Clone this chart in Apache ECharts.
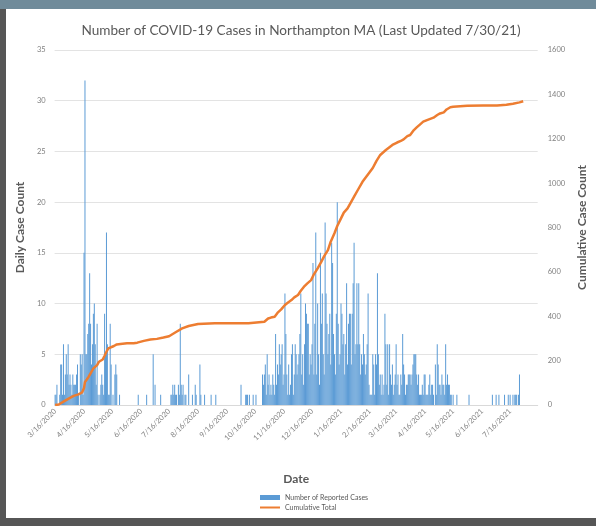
<!DOCTYPE html>
<html>
<head>
<meta charset="utf-8">
<script src="https://cdn.jsdelivr.net/npm/echarts@6/dist/echarts.min.js"></script>
<style>
  html, body { margin: 0; padding: 0; }
  #frame { position: absolute; left: 0; top: 0; width: 596px; height: 526px; background: #565656; }
  #topbar { position: absolute; left: 0; top: 0; width: 596px; height: 9px; background: #708b9a; }
  #chart { position: absolute; left: 6px; top: 9px; width: 590px; height: 509px; background: #fff; }
</style>
</head>
<body>
<div id="frame"><div id="topbar"></div></div>
<div id="chart"></div>
<script>
// daily reported cases, one array per month (3/16/2020 - 7/30/2021)
const mar2020 = [1,1,2,0,0,1,4,4,1,6,1,3,5,3,6,2];
const apr2020 = [3,2,1,3,2,2,2,3,4,1,0,5,4,5,1,15,32,5,5,7,8,13,8,4,6,9,10,6,2,8];
const may2020 = [1,0,1,2,3,2,1,9,5,17,6,1,1,8,4,0,1,0,3,4,3,0,0,1,0,0,0,0,0,0,0];
const jun2020 = [0,0,0,0,0,0,0,0,0,0,0,0,1,0,0,0,0,0,0,0,0,1,0,0,0,0,0,0,5,0];
const jul2020 = [2,0,0,0,0,0,1,0,0,0,0,0,0,0,0,0,0,1,1,2,1,2,1,1,0,2,1,8,2,1,2];
const aug2020 = [0,1,1,0,0,3,0,0,0,1,0,0,2,1,0,0,0,4,1,0,0,0,1,0,0,0,0,0,0,1,0];
const sep2020 = [0,0,0,1,0,0,0,0,0,0,0,0,0,0,0,0,0,0,0,0,0,0,0,0,0,0,0,0,0,0];
const oct2020 = [2,0,0,0,0,1,1,1,0,1,0,0,0,1,0,0,1,0,0,0,0,0,0,3,2,3,4,1,5,2,3];
const nov2020 = [1,2,1,3,2,1,7,2,4,3,6,4,5,6,2,3,11,7,3,1,4,1,2,5,6,1,3,6,5,3];
const dec2020 = [4,5,7,11,3,5,2,6,10,9,8,8,3,5,4,6,14,3,8,17,3,10,5,2,15,8,11,5,3,18,11];
const jan2021 = [8,5,7,9,4,16,14,7,5,3,9,20,8,4,5,10,9,6,7,3,6,12,4,8,9,9,4,9,12,16,5];
const feb2021 = [6,12,6,12,6,3,5,4,7,5,3,4,6,11,2,1,1,1,5,4,1,5,4,13,5,2,3,1];
const mar2021 = [3,1,2,9,6,2,6,1,6,3,2,4,1,2,3,6,2,3,1,1,3,2,7,4,3,1,2,2,3,3,3];
const apr2021 = [2,3,4,5,5,5,3,2,3,1,1,1,2,1,3,3,1,1,1,2,3,1,2,2,1,0,4,1,6,4];
const may2021 = [2,2,1,3,2,2,1,6,2,3,2,2,1,1,0,1,0,0,0,1,0,0,0,0,0,0,0,0,0,0,0];
const jun2021 = [0,1,0,0,0,0,0,0,0,0,0,0,0,0,0,0,0,0,0,0,0,0,0,0,0,0,1,0,0,0];
const jul2021 = [1,0,0,1,0,0,0,0,0,1,0,0,0,1,0,1,0,0,1,0,1,1,1,0,1,3,0,0,0,0];

const dailyCases = [].concat(mar2020, apr2020, may2020, jun2020, jul2020, aug2020,
  sep2020, oct2020, nov2020, dec2020, jan2021, feb2021, mar2021, apr2021,
  may2021, jun2021, jul2021);

// cumulative total
const cumDates = ['3/16/2020','3/20/2020','3/22/2020','3/25/2020','3/31/2020','4/5/2020','4/10/2020',
  '4/14/2020','4/15/2020','4/16/2020','4/17/2020','4/19/2020','4/21/2020','4/23/2020','4/25/2020',
  '4/26/2020','4/30/2020','5/2/2020','5/4/2020','5/6/2020','5/8/2020','5/10/2020','5/12/2020',
  '5/14/2020','5/18/2020','5/21/2020','5/25/2020','6/1/2020','6/8/2020','6/12/2020','6/19/2020',
  '6/26/2020','7/3/2020','7/10/2020','7/16/2020','7/23/2020','7/30/2020','8/6/2020','8/16/2020',
  '9/3/2020','10/9/2020','10/26/2020','10/30/2020','11/2/2020','11/6/2020','11/9/2020','11/13/2020',
  '11/17/2020','11/20/2020','11/24/2020','11/27/2020','12/1/2020','12/4/2020','12/8/2020',
  '12/11/2020','12/15/2020','12/18/2020','12/22/2020','12/26/2020','12/29/2020','1/2/2021',
  '1/5/2021','1/9/2021','1/12/2021','1/16/2021','1/19/2021','1/23/2021','1/26/2021','1/30/2021',
  '2/3/2021','2/8/2021','2/14/2021','2/19/2021','2/23/2021','2/27/2021','3/5/2021','3/12/2021',
  '3/17/2021','3/21/2021','3/24/2021','3/28/2021','3/31/2021','4/4/2021','4/7/2021','4/11/2021',
  '4/14/2021','4/18/2021','4/25/2021','4/29/2021','5/2/2021','5/6/2021','5/9/2021','5/13/2021',
  '5/16/2021','5/31/2021','6/17/2021','7/2/2021','7/12/2021','7/19/2021','7/26/2021','7/30/2021'];
const cumTotals = [0,2,5,15,30,41,48,57,62,77,104,115,128,143,152,165,180,195,201,205,222,240,255,
  259,266,273,275,278,278,281,289,295,298,304,310,328,345,356,365,368,368,375,390,394,398,415,431,
  451,461,473,485,496,515,536,548,563,589,616,646,671,698,736,774,807,841,867,886,909,939,969,1006,
  1040,1068,1100,1127,1149,1172,1183,1190,1197,1212,1217,1239,1251,1266,1277,1284,1295,1307,1314,
  1319,1332,1342,1344,1349,1350,1350,1353,1358,1364,1369];

// date categories, axis runs a bit past the last report
const dates = [];
for (let d = new Date(2020, 2, 16); d <= new Date(2021, 7, 14); d.setDate(d.getDate() + 1)) {
  dates.push((d.getMonth() + 1) + '/' + d.getDate() + '/' + d.getFullYear());
}

const cumData = cumDates.map((d, k) => [dates.indexOf(d), cumTotals[k]]);

const myChart = echarts.init(document.getElementById('chart'));
const grey = '#595959';
const font = 'Lato, "Open Sans", sans-serif';

const option = {
  animation: false,
  textStyle: { fontFamily: font },
  title: {
    text: 'Number of COVID-19 Cases in Northampton MA (Last Updated 7/30/21)',
    left: 'center',
    top: 10,
    textStyle: { color: grey, fontSize: 13.6, fontWeight: 'normal', fontFamily: font }
  },
  legend: {
    orient: 'vertical',
    left: 249,
    top: 480,
    itemGap: 3,
    itemWidth: 20,
    itemHeight: 5,
    textStyle: { color: grey, fontSize: 7, fontFamily: font },
    data: [
      { name: 'Number of Reported Cases', icon: 'rect' },
      { name: 'Cumulative Total', icon: 'path://M0,0 L20,0 L20,2 L0,2 Z' }
    ]
  },
  grid: { left: 46, right: 52, top: 41, bottom: 113 },
  xAxis: {
    type: 'category',
    data: dates,
    name: 'Date',
    nameLocation: 'middle',
    nameGap: 68,
    nameTextStyle: { color: grey, fontSize: 12, fontWeight: 'bold', fontFamily: font },
    axisLine: { lineStyle: { color: '#d9d9d9' } },
    axisTick: { show: false },
    axisLabel: {
      rotate: 45,
      color: '#7f7f7f',
      fontSize: 7.5,
      margin: 5,
      hideOverlap: false,
      interval: (idx, val) => val.split('/')[1] === '16'
    }
  },
  yAxis: [
    {
      type: 'value',
      min: 0, max: 35, interval: 5,
      name: 'Daily Case Count',
      nameLocation: 'middle',
      nameRotate: 90,
      nameGap: 26,
      nameTextStyle: { color: grey, fontSize: 12, fontWeight: 'bold', fontFamily: font },
      axisLabel: { color: '#7f7f7f', fontSize: 7.5, margin: 9 },
      splitLine: { lineStyle: { color: '#e3e3e3' } }
    },
    {
      type: 'value',
      min: 0, max: 1600, interval: 200,
      name: 'Cumulative Case Count',
      nameLocation: 'middle',
      nameRotate: 90,
      nameGap: 34,
      nameTextStyle: { color: grey, fontSize: 12, fontWeight: 'bold', fontFamily: font },
      axisLabel: { color: '#7f7f7f', fontSize: 7.5, margin: 10, formatter: v => String(v) },
      splitLine: { show: false }
    }
  ],
  series: [
    {
      name: 'Number of Reported Cases',
      type: 'bar',
      data: dailyCases,
      barCategoryGap: '15%',
      itemStyle: { color: '#5b9bd5' }
    },
    {
      name: 'Cumulative Total',
      type: 'line',
      yAxisIndex: 1,
      data: cumData,
      showSymbol: false,
      connectNulls: true,
      lineStyle: { color: '#ed7d31', width: 2.5 },
      itemStyle: { color: '#ed7d31' }
    }
  ]
};

myChart.setOption(option);
</script>
</body>
</html>
